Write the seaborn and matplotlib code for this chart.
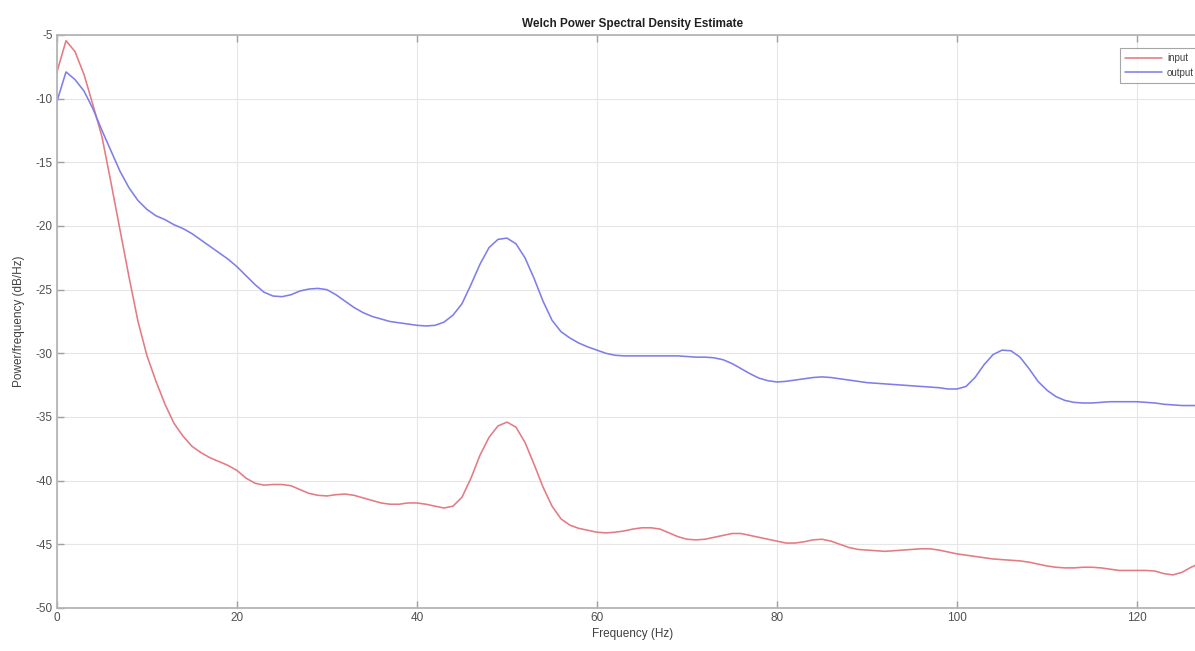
import numpy as np
import pandas as pd
import seaborn as sns
import matplotlib
matplotlib.use("Agg")
import matplotlib.pyplot as plt
from matplotlib.ticker import MultipleLocator

# Frequency bins (Hz), 1 Hz resolution.
freq = list(range(129))

# PSD of the input signal (dB/Hz).
psd_input = [
    -7.9, -5.45, -6.3, -8.1, -10.5, -13.0, -16.6, -20.3, -24.0, -27.5,
    -30.2, -32.2, -34.0, -35.5, -36.5, -37.3, -37.8, -38.2, -38.5, -38.8,
    -39.2, -39.8, -40.2, -40.35, -40.3, -40.3, -40.4, -40.7, -41.0, -41.15,
    -41.2, -41.1, -41.05, -41.15, -41.35, -41.55, -41.75, -41.85, -41.85, -41.75,
    -41.75, -41.85, -42.0, -42.15, -42.0, -41.3, -39.8, -38.0, -36.6, -35.7,
    -35.4, -35.8, -37.0, -38.7, -40.5, -42.0, -43.0, -43.5, -43.75, -43.9,
    -44.05, -44.1, -44.05, -43.95, -43.8, -43.7, -43.7, -43.8, -44.1, -44.4,
    -44.6, -44.65, -44.6, -44.45, -44.3, -44.15, -44.15, -44.3, -44.45, -44.6,
    -44.75, -44.9, -44.9, -44.8, -44.65, -44.6, -44.75, -45.0, -45.25, -45.4,
    -45.45, -45.5, -45.55, -45.5, -45.45, -45.4, -45.35, -45.35, -45.45, -45.6,
    -45.75, -45.85, -45.95, -46.05, -46.15, -46.2, -46.25, -46.3, -46.4, -46.55,
    -46.7, -46.8, -46.85, -46.85, -46.8, -46.8, -46.85, -46.95, -47.05, -47.05,
    -47.05, -47.05, -47.1, -47.3, -47.4, -47.2, -46.8, -46.5, -46.4,
]

# PSD of the output signal (dB/Hz).
psd_output = [
    -10.2, -7.9, -8.5, -9.4, -10.8, -12.5, -14.1, -15.7, -17.0, -18.0,
    -18.7, -19.2, -19.5, -19.9, -20.2, -20.6, -21.1, -21.6, -22.1, -22.6,
    -23.2, -23.9, -24.6, -25.2, -25.5, -25.55, -25.4, -25.1, -24.95, -24.9,
    -25.0, -25.4, -25.9, -26.4, -26.8, -27.1, -27.3, -27.5, -27.6, -27.7,
    -27.8, -27.85, -27.8, -27.55, -27.0, -26.1, -24.6, -23.0, -21.7, -21.05,
    -20.95, -21.4, -22.5, -24.1, -25.9, -27.4, -28.3, -28.8, -29.2, -29.5,
    -29.75, -30.0, -30.15, -30.2, -30.2, -30.2, -30.2, -30.2, -30.2, -30.2,
    -30.25, -30.3, -30.3, -30.35, -30.5, -30.8, -31.2, -31.6, -31.95, -32.15,
    -32.25, -32.2, -32.1, -32.0, -31.9, -31.85, -31.9, -32.0, -32.1, -32.2,
    -32.3, -32.35, -32.4, -32.45, -32.5, -32.55, -32.6, -32.65, -32.7, -32.8,
    -32.8, -32.6, -31.9, -30.9, -30.1, -29.75, -29.8, -30.3, -31.2, -32.2,
    -32.9, -33.4, -33.7, -33.85, -33.9, -33.9, -33.85, -33.8, -33.8, -33.8,
    -33.8, -33.85, -33.9, -34.0, -34.05, -34.1, -34.1, -34.1, -34.1,
]

series_names = ["input", "output"]
line_colors = {"input": "#e47a82", "output": "#7e7eea"}

sns.set_theme(style="whitegrid")
plt.rcParams["font.family"] = ["Liberation Sans", "DejaVu Sans"]
plt.rcParams["axes.unicode_minus"] = False

df = pd.DataFrame({
    "freq": freq * 2,
    "psd": psd_input + psd_output,
    "signal": [series_names[0]] * len(freq) + [series_names[1]] * len(freq),
})

fig = plt.figure(figsize=(11.95, 6.51), dpi=100)
ax = fig.add_axes([57 / 1195, 1 - 608 / 651, 1152 / 1195, 573 / 651])

sns.lineplot(data=df, x="freq", y="psd", hue="signal", palette=line_colors,
             linewidth=1.15, ax=ax, legend=True)

ax.set_xlim(0, 128)
ax.set_ylim(-50, -5)
ax.xaxis.set_major_locator(MultipleLocator(20))
ax.yaxis.set_major_locator(MultipleLocator(5))
ax.grid(True, color="#e6e6e6", linewidth=0.8)
ax.set_facecolor("white")
for s in ax.spines.values():
    s.set_color("#b5b5b5")
    s.set_linewidth(1.3)
ax.tick_params(direction="in", length=5, width=1, color="#a0a0a0",
               labelsize=8.5, labelcolor="#505050", top=True, right=True,
               bottom=True, left=True, pad=3)

ax.set_title("Welch Power Spectral Density Estimate", fontsize=8.5,
             fontweight="bold", color="#202020", pad=6)
ax.set_xlabel("Frequency (Hz)", fontsize=8.5, color="#404040", labelpad=3)
ax.set_ylabel("Power/frequency (dB/Hz)", fontsize=8.5, color="#404040", labelpad=8)

leg = ax.legend(loc="upper left", bbox_to_anchor=(1115 / 1195, 1 - 43 / 651),
                bbox_transform=fig.transFigure, fontsize=7, frameon=True,
                fancybox=False, edgecolor="#909090", handlelength=3.8,
                borderpad=0.55, labelspacing=0.45, handletextpad=0.5)
leg.get_frame().set_linewidth(0.8)
for t in leg.get_texts():
    t.set_color("#404040")

fig.savefig("out.png", dpi=100)
